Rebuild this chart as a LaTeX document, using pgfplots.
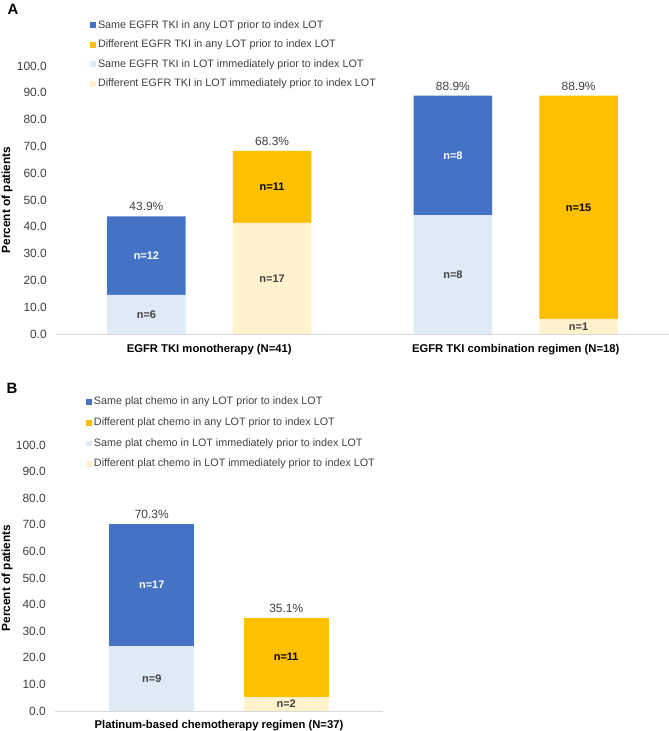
\documentclass[border=0pt]{standalone}
\usepackage{pgfplots}
\pgfplotsset{compat=1.18}
\usepackage{fontspec}
\setmainfont{Liberation Sans}
\definecolor{dblue}{HTML}{4472C4}
\definecolor{orng}{HTML}{FFC000}
\definecolor{lblue}{HTML}{DEEBF7}
\definecolor{lyell}{HTML}{FFF2CC}
\definecolor{txtg}{HTML}{404040}
\definecolor{axg}{HTML}{D9D9D9}
\tikzset{
  vlab/.style={font=\fontsize{12}{14}\selectfont, text=txtg, anchor=south, inner sep=0pt, yshift=5.3bp},
  nlab/.style={font=\fontsize{11}{13}\selectfont\bfseries, inner sep=0pt},
}
\pgfplotsset{
  mystyle/.style={
    scale only axis,
    ybar stacked,
    ymin=0, ymax=100,
    ytick={0,10,...,100},
    axis x line*=bottom,
    axis y line*=left,
    x axis line style={draw=axg, line width=0.8bp},
    y axis line style={draw=none},
    major tick length=0pt,
    yticklabel style={font=\fontsize{12}{14}\selectfont, text=txtg, anchor=east, inner sep=0pt, xshift=-9bp},
    /pgf/number format/.cd, fixed, fixed zerofill, precision=1, assume math mode=true, /pgfplots/.cd,
    xticklabel style={font=\fontsize{11.3}{13}\selectfont\bfseries, text=black, inner sep=0pt, yshift=-10bp},
    ylabel style={font=\fontsize{11.9}{14}\selectfont\bfseries, anchor=center},
    legend cell align=left,
    legend image code/.code={\fill[#1] (0bp,-2.9bp) rectangle (5.8bp,2.9bp);},
    legend style={draw=none, fill=none, inner sep=0pt, font=\fontsize{10.8}{12}\selectfont, text=txtg,
      nodes={inner sep=0pt, text height=8bp, text depth=2.5bp}, column sep=2bp},
    clip=false,
  },
}
\begin{document}
\begin{tikzpicture}
\useasboundingbox (0,0) rectangle (669bp,731bp);
\node[font=\fontsize{15}{17}\selectfont\bfseries, anchor=center] at (13bp,722bp) {A};
\node[font=\fontsize{15}{17}\selectfont\bfseries, anchor=center] at (12bp,343bp) {B};
% Panel A
\begin{axis}[mystyle,
  at={(56bp,397bp)}, anchor=south west,
  width=613bp, height=268bp,
  xmin=-0.5, xmax=1.5,
  xtick={0,1},
  xticklabels={EGFR TKI monotherapy (N=41), EGFR TKI combination regimen (N=18)},
  bar width=0.256,
  ylabel={Percent of patients},
  ylabel style={at={(axis description cs:-0.080,0.5)}},
  legend style={at={(axis description cs:0.0555,1.172)}, anchor=north west, row sep=9bp},
]
\addlegendimage{fill=dblue, draw=none}
\addlegendentry{Same EGFR TKI in any LOT prior to index LOT}
\addlegendimage{fill=orng, draw=none}
\addlegendentry{Different EGFR TKI in any LOT prior to index LOT}
\addlegendimage{fill=lblue, draw=none}
\addlegendentry{Same EGFR TKI in LOT immediately prior to index LOT}
\addlegendimage{fill=lyell, draw=none}
\addlegendentry{Different EGFR TKI in LOT immediately prior to index LOT}
\addplot[fill=lblue, draw=none, forget plot] coordinates {(-0.205,14.6) (0.205,0) (0.795,44.4) (1.205,0)};
\addplot[fill=lyell, draw=none, forget plot] coordinates {(-0.205,0) (0.205,41.5) (0.795,0) (1.205,5.6)};
\addplot[fill=dblue, draw=none, forget plot] coordinates {(-0.205,29.3) (0.205,0) (0.795,44.5) (1.205,0)};
\addplot[fill=orng, draw=none, forget plot] coordinates {(-0.205,0) (0.205,26.8) (0.795,0) (1.205,83.3)};
\coordinate (a1) at (axis cs:-0.205,43.9);
\coordinate (a2) at (axis cs:0.205,68.3);
\coordinate (a3) at (axis cs:0.795,88.9);
\coordinate (a4) at (axis cs:1.205,88.9);
\coordinate (na1) at (axis cs:-0.205,7.3);
\coordinate (na2) at (axis cs:-0.205,29.25);
\coordinate (na3) at (axis cs:0.205,20.75);
\coordinate (na4) at (axis cs:0.205,54.9);
\coordinate (na5) at (axis cs:0.795,22.2);
\coordinate (na6) at (axis cs:0.795,66.65);
\coordinate (na7) at (axis cs:1.205,2.8);
\coordinate (na8) at (axis cs:1.205,47.25);
\end{axis}
\node[vlab] at (a1) {43.9\%};
\node[vlab] at (a2) {68.3\%};
\node[vlab] at (a3) {88.9\%};
\node[vlab] at (a4) {88.9\%};
\node[nlab, text=txtg] at (na1) {n=6};
\node[nlab, text=white] at (na2) {n=12};
\node[nlab, text=txtg] at (na3) {n=17};
\node[nlab, text=black] at (na4) {n=11};
\node[nlab, text=txtg] at (na5) {n=8};
\node[nlab, text=white] at (na6) {n=8};
\node[nlab, text=txtg] at (na7) {n=1};
\node[nlab, text=black] at (na8) {n=15};
% Panel B
\begin{axis}[mystyle,
  at={(55bp,20bp)}, anchor=south west,
  width=328bp, height=266bp,
  xmin=-0.5, xmax=0.5,
  xtick={0},
  xticklabels={Platinum-based chemotherapy regimen (N=37)},
  xticklabel style={yshift=1bp},
  bar width=0.259,
  ylabel={Percent of patients},
  ylabel style={at={(axis description cs:-0.146,0.5)}},
  legend style={at={(axis description cs:0.0945,1.182)}, anchor=north west, row sep=10.2bp},
]
\addlegendimage{fill=dblue, draw=none}
\addlegendentry{Same plat chemo in any LOT prior to index LOT}
\addlegendimage{fill=orng, draw=none}
\addlegendentry{Different plat chemo in any LOT prior to index LOT}
\addlegendimage{fill=lblue, draw=none}
\addlegendentry{Same plat chemo in LOT immediately prior to index LOT}
\addlegendimage{fill=lyell, draw=none}
\addlegendentry{Different plat chemo in LOT immediately prior to index LOT}
\addplot[fill=lblue, draw=none, forget plot] coordinates {(-0.205,24.3) (0.205,0)};
\addplot[fill=lyell, draw=none, forget plot] coordinates {(-0.205,0) (0.205,5.4)};
\addplot[fill=dblue, draw=none, forget plot] coordinates {(-0.205,46.0) (0.205,0)};
\addplot[fill=orng, draw=none, forget plot] coordinates {(-0.205,0) (0.205,29.7)};
\coordinate (b1) at (axis cs:-0.205,70.3);
\coordinate (b2) at (axis cs:0.205,35.1);
\coordinate (nb1) at (axis cs:-0.205,12.15);
\coordinate (nb2) at (axis cs:-0.205,47.3);
\coordinate (nb3) at (axis cs:0.205,2.7);
\coordinate (nb4) at (axis cs:0.205,20.25);
\end{axis}
\node[vlab] at (b1) {70.3\%};
\node[vlab] at (b2) {35.1\%};
\node[nlab, text=txtg] at (nb1) {n=9};
\node[nlab, text=white] at (nb2) {n=17};
\node[nlab, text=txtg] at (nb3) {n=2};
\node[nlab, text=black] at (nb4) {n=11};
\end{tikzpicture}
\end{document}
